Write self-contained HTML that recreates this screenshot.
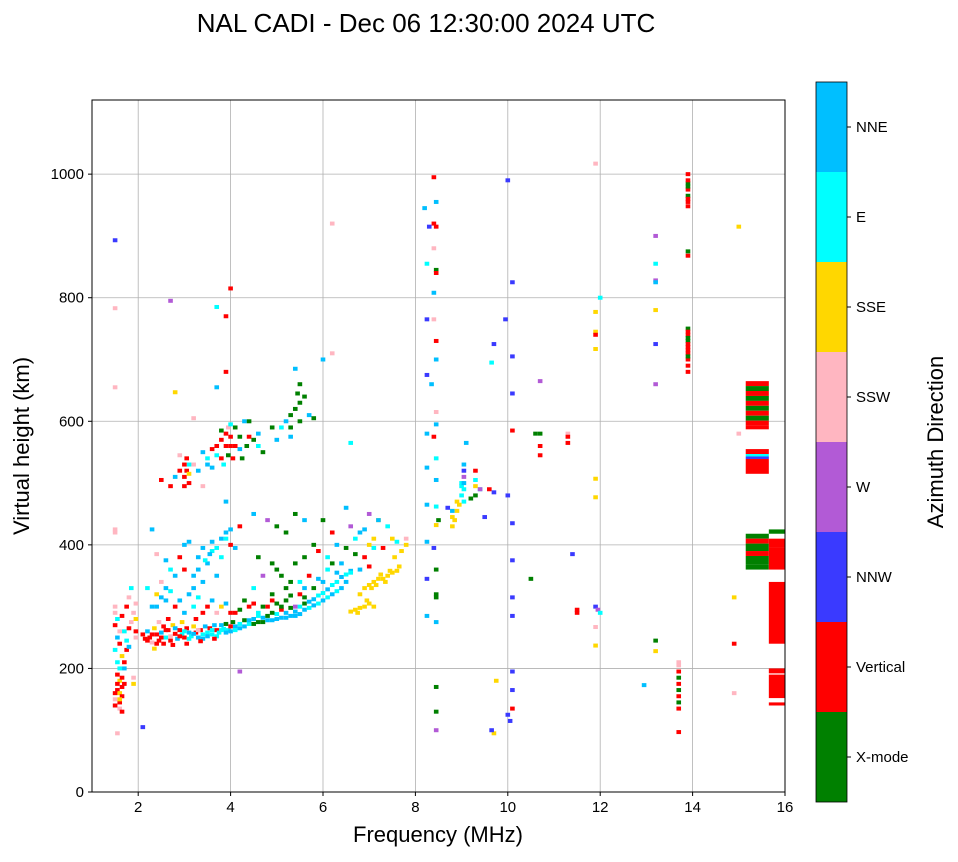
<!DOCTYPE html>
<html><head><meta charset="utf-8"><style>
body{margin:0;background:#fff;font-family:"Liberation Sans",sans-serif}
</style></head><body>
<svg id="chart" width="958" height="857" xmlns="http://www.w3.org/2000/svg" font-family="Liberation Sans, sans-serif">
<text x="426" y="32" font-size="26" text-anchor="middle">NAL CADI - Dec 06 12:30:00 2024 UTC</text>
<g id="grid"></g><g id="marks"></g><g id="axes"></g><g id="cbar"></g>
<text x="438" y="842" font-size="22" text-anchor="middle">Frequency (MHz)</text>
<text transform="translate(29,446) rotate(-90)" font-size="22" text-anchor="middle">Virtual height (km)</text>
<text transform="translate(943,442) rotate(-90)" font-size="22" text-anchor="middle">Azimuth Direction</text>
</svg>
<script>
const directions=["X-mode","Vertical","NNW","W","SSW","SSE","E","NNE"];
const dirColors=["#008000","#ff0000","#3a3aff","#b25ad6","#ffb6c1","#ffd700","#00ffff","#00bfff"];
const xTicks=[2,4,6,8,10,12,14,16];
const yTicks=[0,200,400,600,800,1000];
const echoes=[
[1.5,290,4],[1.55,280,6],[1.5,270,1],[1.6,260,4],[1.55,250,7],[1.6,240,1],[1.5,230,6],[1.65,220,5],[1.6,200,6],[1.55,190,1],[1.6,180,5],[1.65,170,1],[1.55,165,1],[1.6,160,5],[1.5,150,4],[1.6,145,1],[1.65,155,1],[1.7,175,1],[1.6,135,4],[1.5,140,1],[1.7,200,7],[1.75,230,1],[1.7,260,6],[1.65,285,1],[1.5,300,4],[1.5,425,4],[1.5,420,4],[1.5,655,4],[1.5,783,4],[1.5,893,2],[1.55,95,4],[1.9,175,5],[1.9,185,4],[1.95,260,1],[1.95,250,4],
[1.55,175,1],[1.65,185,1],[1.5,160,1],[1.6,150,5],[1.7,210,1],[1.75,245,6],[1.8,265,1],[1.85,275,4],[1.8,235,7],[1.9,290,4],[1.95,305,4],[1.75,300,1],[1.85,330,6],[1.8,315,4],[1.95,280,5],[1.55,210,6],[1.65,130,1],
[2.1,255,1],[2.15,248,1],[2.2,260,7],[2.25,250,1],[2.3,242,4],[2.35,265,5],[2.4,255,1],[2.45,245,1],[2.5,258,7],[2.55,268,1],[2.6,250,6],[2.65,262,1],[2.7,252,4],[2.75,270,5],[2.8,256,1],[2.85,248,7],[2.9,262,1],[2.95,255,6],[3.0,250,1],[3.05,265,1],[3.1,258,7],[3.15,252,6],[3.2,268,5],[3.25,258,1],[3.3,250,7],[3.35,262,1],[3.4,255,6],[3.45,268,7],[3.5,258,6],[3.55,265,1],[3.6,255,6],[3.65,270,7],[3.7,262,1],[3.75,258,6],[3.8,270,7],[3.85,264,6],[3.9,272,0],[3.95,262,6],[4.0,268,1],[4.05,275,0],[4.1,268,7],[4.2,272,6],[4.3,278,0],[4.4,272,6],[4.5,280,7],[4.6,275,0],[4.7,282,7],[4.8,285,0],[4.9,278,7],[5.0,288,6],[5.1,282,7],[5.2,290,7],[5.3,285,7],[5.4,292,7],[5.5,288,7],[5.6,295,7],[5.7,298,6],[5.8,302,7],[5.9,305,6],[6.0,310,7],[6.1,315,6],[6.2,320,7],[6.3,325,6],[6.4,330,7],
[2.2,245,1],[2.3,255,1],[2.4,240,1],[2.5,250,1],[2.6,262,1],[2.7,245,1],[2.8,265,7],[2.9,252,1],[3.0,260,6],[3.1,248,6],[3.2,256,7],[3.3,262,4],[3.4,248,7],[3.5,252,7],[3.6,262,6],[3.7,252,6],[3.8,262,6],[3.9,258,7],[4.0,260,7],[4.1,262,6],[4.2,265,7],[4.3,268,7],[4.4,278,7],[4.5,272,0],[4.6,285,6],[4.7,275,0],[4.8,278,7],[4.9,290,0],[5.0,280,7],[5.1,295,1],[5.2,282,7],[5.3,298,0],[5.4,285,7],[5.5,300,6],[5.6,305,0],[5.7,308,7],[5.8,312,7],[5.9,318,6],[6.0,322,6],[6.1,328,7],[6.2,335,6],[6.3,340,6],[6.4,348,7],[6.5,352,6],[6.6,358,7],[6.5,340,7],[2.35,232,5],[2.55,240,1],[2.75,238,1],[3.05,240,1],[3.35,244,1],[3.65,248,1],[2.45,275,4],[2.65,280,1],[2.95,275,5],[3.25,280,1],
[2.3,300,7],[2.4,320,5],[2.6,310,7],[2.8,300,1],[3.0,290,7],[3.2,300,6],[3.4,290,1],[3.6,310,7],[3.8,300,5],[4.0,290,1],[4.2,295,0],[4.4,300,1],[4.6,290,6],[4.8,300,1],[5.0,305,0],[5.2,310,0],[5.4,300,3],[5.5,320,1],[5.6,315,0],[5.8,330,0],[6.0,340,7],[4.9,320,0],[5.2,330,0],[5.5,340,6],[4.5,330,6],[4.7,350,3],[5.0,360,0],[5.3,340,0],[5.7,350,1],
[2.5,315,7],[2.7,325,6],[2.9,310,7],[3.1,320,7],[3.3,315,6],[3.5,300,1],[3.7,290,4],[3.9,305,7],[4.1,290,1],[4.3,310,0],[4.5,305,1],[4.7,300,0],[4.9,310,1],[5.1,300,0],[5.3,318,0],[5.6,330,7],[5.9,345,7],[6.1,360,6],[6.3,355,7],
[2.2,330,6],[2.5,340,4],[2.7,360,6],[2.9,380,1],[3.0,400,7],[3.1,405,7],[3.3,380,7],[3.5,370,7],[3.6,390,6],[3.8,410,7],[3.9,420,7],[4.0,400,1],[4.1,395,7],[4.2,430,1],[3.7,350,7],[3.4,340,7],[2.4,385,4],[2.3,425,7],[2.6,375,7],
[2.8,350,7],[3.0,360,1],[3.2,350,7],[3.3,360,7],[3.45,375,6],[3.55,385,7],[3.7,395,6],[3.8,380,6],[3.9,410,6],[4.0,425,7],[3.6,405,7],[3.4,395,7],[3.2,330,7],[2.6,330,7],[2.4,300,7],
[4.5,450,7],[4.8,440,3],[5.0,430,0],[5.2,420,0],[5.4,450,0],[5.6,440,7],[5.8,400,0],[6.0,440,0],[6.2,420,1],[6.5,460,7],[6.6,430,3],[6.8,420,7],[7.0,450,3],[7.2,440,5],[7.4,430,6],[7.5,410,5],[7.8,400,5],[6.7,385,0],[6.9,380,1],[7.1,395,6],[6.3,400,7],[6.1,380,6],[6.4,370,7],[6.6,355,6],[6.8,360,7],[7.0,365,1],[7.2,440,7],
[4.6,380,0],[4.9,370,0],[5.1,350,0],[5.4,370,0],[5.6,380,0],[5.9,390,1],[6.2,370,0],[6.5,395,0],[6.7,410,6],[6.9,425,7],[7.1,410,5],[7.3,395,1],[7.6,405,6],
[6.7,295,5],[6.8,298,5],[6.9,300,5],[7.0,305,5],[6.8,320,5],[6.9,330,5],[7.0,335,5],[7.1,340,5],[7.2,345,5],[7.3,345,5],[7.4,350,5],[7.5,355,5],[7.6,358,5],[7.65,365,5],[7.7,390,5],[7.55,380,5],[7.0,400,5],[7.8,410,4],
[6.6,292,5],[6.75,290,5],[6.95,310,5],[7.05,330,5],[7.15,335,5],[7.25,352,5],[7.35,340,5],[7.45,358,5],[7.1,300,5],
[2.5,505,1],[2.7,495,1],[2.8,510,7],[2.9,520,1],[3.0,510,1],[3.05,540,1],[3.1,500,1],[3.2,530,4],[3.3,520,7],[3.4,550,7],[3.5,540,6],[3.6,555,1],[3.7,560,1],[3.8,570,1],[3.9,580,1],[4.0,560,1],[4.1,590,0],[4.2,575,0],[4.3,600,7],[4.5,570,0],[4.6,580,7],[4.7,550,0],[4.9,590,0],[5.0,570,7],[5.2,600,7],[5.3,590,0],[5.4,620,0],[5.5,630,0],[5.6,640,0],[5.7,610,7],[5.8,605,0],[5.5,660,0],[5.4,685,7],[6.0,700,7],[3.85,530,6],[4.05,540,1],[3.95,545,0],[3.6,525,7],[4.25,540,0],[4.35,560,0],[2.9,545,4],[3.4,495,4],
[3.0,495,1],[3.05,520,1],[3.1,530,6],[3.0,530,1],[3.1,515,5],[3.5,530,7],[3.7,545,6],[3.8,540,1],[3.9,560,1],[4.0,575,1],[3.8,585,0],[3.95,590,4],[4.1,560,1],[4.2,555,7],[4.4,575,1],[4.6,560,6],[5.1,590,6],[5.3,610,0],[5.5,600,0],[5.45,645,0],[5.3,575,7],
[3.9,470,7],[3.7,785,6],[3.9,770,1],[4.0,815,1],[3.7,655,7],[3.9,680,1],[4.0,595,6],[4.4,600,0],[6.2,920,4],[6.2,710,4],[2.7,795,3],[4.2,195,3],[2.1,105,2],[2.8,647,5],[3.2,605,4],[6.6,565,6],
[8.2,945,7],[8.4,995,1],[8.45,955,7],[8.4,920,1],[8.45,915,1],[8.3,915,2],[8.4,880,4],[8.25,855,6],[8.45,845,0],[8.45,840,1],[8.4,808,7],[8.25,765,2],[8.4,765,4],[8.45,730,1],[8.45,700,7],[8.25,675,2],[8.35,660,7],[8.45,615,4],[8.45,595,7],[8.25,580,7],[8.4,575,1],[8.45,540,6],[8.25,525,7],[8.45,505,7],[8.25,465,7],[8.45,462,6],[8.5,440,0],[8.45,432,5],[8.25,405,7],[8.4,395,2],[8.45,360,0],[8.25,345,2],[8.45,320,0],[8.45,315,0],[8.25,285,7],[8.45,275,7],[8.45,170,0],[8.45,130,0],[8.45,100,3],
[8.7,460,2],[8.8,455,7],[8.8,445,5],[8.9,470,5],[9.0,480,6],[9.0,495,6],[9.05,510,3],[9.05,520,2],[9.05,530,7],[9.0,500,6],[9.1,565,7],[8.8,430,5],[8.85,440,5],[9.3,520,1],[9.3,495,5],[9.3,480,0],[9.2,475,0],[9.4,490,6],[9.5,445,2],[9.4,490,3],[9.6,490,1],[9.7,485,2],
[9.05,470,6],[9.05,490,6],[9.05,500,7],[8.9,455,5],[8.95,465,5],[9.3,505,6],
[10.0,990,2],[10.1,825,2],[9.95,765,2],[10.1,705,2],[9.7,725,2],[9.65,695,6],[10.1,645,2],[10.1,585,1],[10.0,480,2],[10.1,435,2],[10.1,375,2],[10.1,315,2],[10.1,285,2],[10.1,195,2],[10.1,165,2],[10.0,125,2],[10.05,115,2],[10.1,135,1],[9.75,180,5],[9.7,95,5],[9.65,100,2],
[10.7,580,0],[10.7,560,1],[10.7,545,1],[10.6,580,0],[10.7,665,3],[10.5,345,0],[11.3,580,4],[11.3,565,1],[11.3,575,1],[11.4,385,2],[11.5,295,1],[11.5,290,1],
[11.9,1017,4],[12.0,800,6],[11.9,777,5],[11.9,745,5],[11.9,740,1],[11.9,717,5],[11.9,507,5],[11.9,477,5],[11.9,300,2],[11.95,295,3],[12.0,290,6],[11.9,267,4],[11.9,237,5],
[13.2,900,3],[13.2,855,6],[13.2,828,3],[13.2,825,7],[13.2,780,5],[13.2,725,2],[13.2,660,3],[13.2,245,0],[13.2,228,5],[12.95,173,7],
[13.7,205,4],[13.7,195,1],[13.7,185,0],[13.7,175,1],[13.7,165,0],[13.7,155,1],[13.7,145,0],[13.7,135,1],[13.7,97,1],[13.7,210,4],
[13.9,1000,1],[13.9,985,0],[13.9,975,1],[13.9,965,0],[13.9,955,1],[13.9,948,1],[13.9,875,0],[13.9,868,1],[13.9,750,0],[13.9,740,1],[13.9,730,0],[13.9,720,1],[13.9,710,1],[13.9,700,1],[13.9,690,1],[13.9,680,1],
[13.9,990,1],[13.9,980,0],[13.9,960,1],[13.9,745,1],[13.9,735,0],[13.9,725,1],[13.9,715,1],[13.9,705,0],
[15.0,915,5],[15.0,580,4],[14.9,315,5],[14.9,240,1],[14.9,160,4]
];
const blocks=[
[15.15,15.65,657,665,1],[15.15,15.65,649,657,0],[15.15,15.65,641,649,1],[15.15,15.65,633,641,0],[15.15,15.65,625,633,1],[15.15,15.65,617,625,0],[15.15,15.65,609,617,1],[15.15,15.65,601,609,0],[15.15,15.65,593,601,1],[15.15,15.65,587,593,1],
[15.15,15.65,547,555,1],[15.15,15.65,543,547,6],[15.15,15.65,539,543,2],[15.15,15.65,515,539,1],
[15.15,15.65,410,418,0],[15.15,15.65,402,410,1],[15.15,15.65,390,402,0],[15.15,15.65,382,390,1],[15.15,15.65,368,382,0],[15.15,15.65,360,368,0],
[15.65,16,418,425,0],[15.65,16,395,410,1],[15.65,16,360,395,1],[15.65,16,240,340,1],[15.65,16,192,200,1],[15.65,16,152,190,1],[15.65,16,140,145,1]
];
const NS="http://www.w3.org/2000/svg";
const L=92,R=785,T=100,B=792;
function xs(f){return L+(f-1)*(R-L)/15;}
function ys(h){return B-h*(B-T)/1120;}
function mk(tag,at,parent){const e=document.createElementNS(NS,tag);for(const k in at)e.setAttribute(k,at[k]);parent.appendChild(e);return e;}
const grid=document.getElementById('grid'),marks=document.getElementById('marks'),axes=document.getElementById('axes'),cb=document.getElementById('cbar');
xTicks.forEach(t=>{
 const g=mk('line',{x1:xs(t),x2:xs(t),y1:T,y2:B,stroke:'#b0b0b0','stroke-width':0.8},grid);
 
 
 const tk=mk('line',{x1:xs(t),x2:xs(t),y1:B,y2:B+4,stroke:'#000'},axes);
 
 
 const tx=mk('text',{x:xs(t),y:B+20,'font-size':15,'text-anchor':'middle'},axes);tx.textContent=t;
 
 
});
yTicks.forEach(t=>{
 const g=mk('line',{x1:L,x2:R,y1:ys(t),y2:ys(t),stroke:'#b0b0b0','stroke-width':0.8},grid);
 
 
 const tk=mk('line',{x1:L-4,x2:L,y1:ys(t),y2:ys(t),stroke:'#000'},axes);
 
 
 const tx=mk('text',{x:L-8,y:ys(t)+5,'font-size':15,'text-anchor':'end'},axes);tx.textContent=t;
 
 
});
echoes.forEach(p=>{
 const r=mk('rect',{x:xs(p[0])-2.3,y:ys(p[1])-2,width:4.6,height:4,fill:dirColors[p[2]]},marks);
 
 
});
blocks.forEach(b=>{
 const r=mk('rect',{x:xs(b[0]),y:ys(b[3]),width:xs(b[1])-xs(b[0]),height:ys(b[2])-ys(b[3]),fill:dirColors[b[4]]},marks);
 
 
});
const frame=mk('rect',{x:L,y:T,width:R-L,height:B-T,fill:'none',stroke:'#000','stroke-width':1},axes);


const cT=82,cB=802,cL=816,cW=31,seg=(cB-cT)/directions.length;
directions.forEach((d,i)=>{
 const y0=cB-(i+1)*seg;
 const r=mk('rect',{x:cL,y:y0,width:cW,height:seg,fill:dirColors[i]},cb);
 
 
 mk('line',{x1:cL+cW,x2:cL+cW+4,y1:y0+seg/2,y2:y0+seg/2,stroke:'#000'},cb);
 const tx=mk('text',{x:cL+cW+9,y:y0+seg/2+5,'font-size':15},cb);tx.textContent=d;
 
 
});
const cf=mk('rect',{x:cL,y:cT,width:cW,height:cB-cT,fill:'none',stroke:'#000','stroke-width':0.8},cb);


</script>
</body></html>
